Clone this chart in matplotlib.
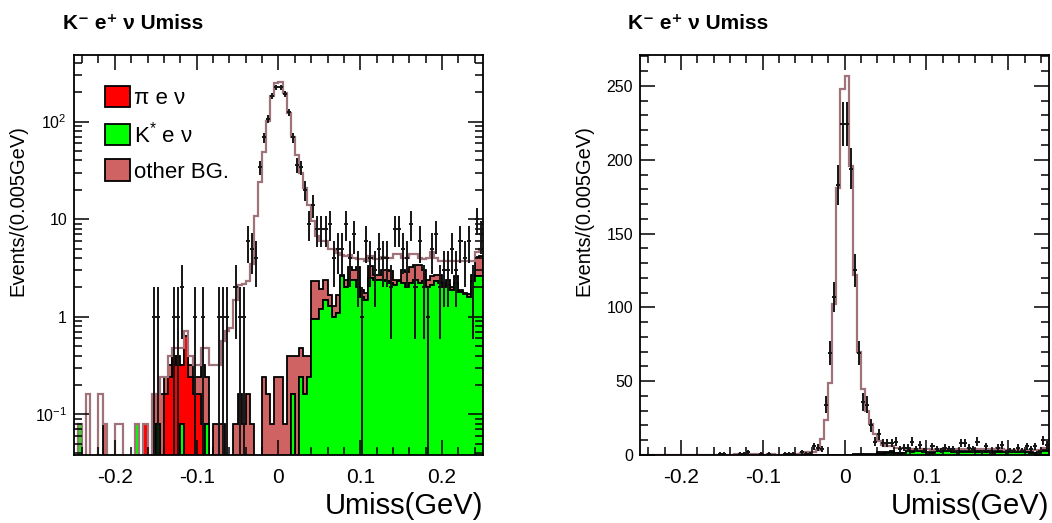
import numpy as np
import matplotlib
matplotlib.use("Agg")
import matplotlib.pyplot as plt
from matplotlib.patches import Patch
from matplotlib.ticker import MultipleLocator, FixedLocator, FuncFormatter, LogLocator, NullFormatter

plt.rcParams['font.family'] = ['Liberation Sans', 'DejaVu Sans']
plt.rcParams['axes.unicode_minus'] = False
plt.rcParams['mathtext.fontset'] = 'custom'
plt.rcParams['mathtext.rm'] = 'Liberation Sans'
plt.rcParams['mathtext.it'] = 'Liberation Sans:italic'
plt.rcParams['mathtext.bf'] = 'Liberation Sans:bold'

# 100 bins of 0.005 GeV between -0.25 and 0.25
edges = np.linspace(-0.25, 0.25, 101)
centers = 0.5 * (edges[1:] + edges[:-1])

# K* e nu MC (green)
kstar = [0, 0.08, 0, 0, 0, 0, 0, 0, 0, 0,
         0, 0, 0, 0, 0, 0.08, 0, 0, 0, 0,
         0.08, 0, 0, 0, 0, 0, 0.08, 0, 0, 0,
         0, 0, 0.08, 0, 0, 0, 0, 0, 0, 0,
         0, 0, 0, 0, 0, 0, 0, 0, 0, 0,
         0, 0, 0, 0.16, 0, 0.24, 0.16, 0.24, 0.95, 0.95,
         1.2, 1.47, 1.3, 1.0, 1.1, 2.6, 2.0, 2.4, 2.4, 2.0,
         1.6, 1.5, 2.5, 2.4, 2.4, 2.4, 2.3, 2.2, 2.1, 2.3,
         2.2, 2.0, 2.2, 2.4, 2.2, 2.3, 2.0, 2.1, 2.3, 2.2,
         2.0, 2.1, 1.9, 2.2, 1.8, 1.7, 1.6, 2.3, 2.6, 2.6]

# pi e nu MC (red)
pienu = [0, 0, 0, 0, 0, 0, 0, 0, 0, 0,
         0, 0, 0, 0, 0, 0, 0, 0.08, 0, 0,
         0, 0, 0.16, 0.24, 0.40, 0.32, 0.24, 0.64, 0.24, 0.16,
         0.16, 0.08, 0, 0, 0, 0, 0, 0, 0, 0] + [0] * 60

# other background MC
other = [0, 0, 0, 0, 0, 0, 0, 0.08, 0, 0,
         0, 0, 0, 0, 0, 0, 0, 0, 0, 0.16,
         0.08, 0.16, 0.08, 0.08, 0, 0.08, 0, 0, 0.08, 0.08,
         0.08, 0.24, 0.16, 0, 0.08, 0.08, 0.08, 0, 0, 0.08,
         0.16, 0.08, 0.16, 0.08, 0, 0, 0.24, 0.16, 0.08, 0.24,
         0.24, 0.08, 0.40, 0.24, 0.40, 0.24, 0.24, 0.16, 1.4, 1.4,
         0.74, 0.93, 0.35, 0.3, 0.55, 0.05, 0.4, 0.86, 0.6, 1.26,
         0.3, 0.25, 0.8, 0.25, 0.25, 0.6, 0.7, 0.75, 0.3, 0.1,
         0.8, 0.9, 1.0, 1.0, 1.2, 0.7, 0.4, 0.5, 0.4, 0.5,
         0.2, 0.3, 0.1, 0.4, 0.1, 0.05, 0.1, 0.4, 1.5, 1.6]

# K- e+ nu signal MC
signal = [0, 0, 0, 0.16, 0, 0, 0.16, 0, 0, 0,
          0.08, 0.08, 0, 0, 0, 0, 0, 0, 0, 0,
          0, 0.08, 0, 0.08, 0.08, 0.08, 0.16, 0.08, 0.08, 0.08,
          0.08, 0.16, 0.24, 0.32, 0.24, 0.24, 0.48, 0.72, 0.77, 1.4,
          1.95, 2.1, 2.15, 3.4, 10.7, 24, 48.8, 101.8, 181, 247.8,
          256.8, 196, 121.6, 69.6, 44.6, 29.5, 20.6, 13.6, 7.2, 4.4,
          4.0, 3.6, 3.3, 3.7, 2.8, 1.6, 1.8, 1.0, 1.0, 0.6,
          2.0, 1.95, 0.9, 1.25, 1.25, 1.1, 1.0, 1.05, 2.0, 2.0,
          1.0, 1.1, 1.2, 1.0, 0.6, 0.9, 1.6, 2.0, 1.3, 1.0,
          1.5, 1.3, 1.7, 1.1, 1.8, 1.95, 2.0, 1.0, 0.5, 0.8]

# data counts
data = [0, 0, 0, 0, 0, 0, 0, 0, 0, 0,
        0, 0, 0, 0, 0, 0, 0, 0, 0, 1,
        1, 0, 0, 0, 1, 1, 2, 0, 0, 1,
        0, 1, 0, 0, 0, 1, 1, 1, 0, 2,
        1, 1, 6, 5, 4, 34, 69, 107, 183, 224,
        224, 194, 125, 69, 36, 34, 20, 9, 14, 8,
        8, 8, 9, 4, 5, 5, 9, 4, 7, 3,
        1, 6, 4, 3, 5, 4, 4, 2, 8, 8,
        5, 4, 9, 2, 6, 2, 1, 5, 7, 2,
        3, 3, 5, 3, 6, 4, 6, 2, 10, 7]

c_green = '#00ff00'
c_red = '#ff0000'
c_other = '#cf6262'
c_total = '#a0727a'

kstar = np.array(kstar)
pienu = np.array(pienu)
other = np.array(other)
signal = np.array(signal)
data = np.array(data, dtype=float)

s1 = kstar
s2 = kstar + pienu
s3 = s2 + other
total = s3 + signal


def draw_panel(ax, logy):
    base = 1e-4 if logy else 0.0
    for vals, col in [(s3, c_other), (s2, c_red), (s1, c_green)]:
        ax.stairs(vals, edges, fill=True, facecolor=col, baseline=base)
        ax.stairs(vals, edges, fill=False, color='black', lw=1.3, baseline=base)
    tot = np.maximum(total, 1e-4) if logy else total
    ax.stairs(tot, edges, color=c_total, lw=1.6, baseline=None)

    m = data > 0
    n = data[m]
    err = np.sqrt(n)
    lo = np.where(n - err > 0, err, n - 1e-4) if logy else err
    ax.errorbar(centers[m], n, yerr=[lo, err], xerr=0.0025, fmt='none',
                ecolor='#151515', elinewidth=1.4, capsize=0)

    ax.set_xlim(-0.25, 0.25)
    ax.xaxis.set_major_locator(FixedLocator([-0.2, -0.1, 0, 0.1, 0.2]))
    ax.xaxis.set_minor_locator(MultipleLocator(0.02))
    ax.xaxis.set_major_formatter(FuncFormatter(lambda v, p: '%g' % round(v, 2)))
    ax.tick_params(axis='x', which='major', labelsize=15, pad=9)
    ax.tick_params(axis='y', which='major', labelsize=11.5, pad=5)
    ax.tick_params(which='both', direction='in', top=True, right=True, color='black')
    ax.tick_params(which='major', length=11, width=1.1)
    ax.tick_params(which='minor', length=5.5, width=1.1)
    for sp in ax.spines.values():
        sp.set_linewidth(1.3)
    ax.set_xlabel('Umiss(GeV)', fontsize=21, loc='right', labelpad=4)
    ax.set_ylabel('Events/(0.005GeV)', fontsize=14.5)
    ax.yaxis.set_label_coords(-0.113, 0.61)


fig = plt.figure(figsize=(10.52, 5.23), dpi=100)
ax1 = fig.add_axes([0.0703, 0.130, 0.3888, 0.765])
ax2 = fig.add_axes([0.6084, 0.130, 0.3888, 0.765])

draw_panel(ax1, True)
ax1.set_yscale('log')
ax1.set_ylim(0.0382, 483)
ax1.yaxis.set_major_locator(FixedLocator([0.1, 1, 10, 100]))
ax1.yaxis.set_minor_locator(LogLocator(base=10, subs=np.arange(2, 10)))
ax1.yaxis.set_minor_formatter(NullFormatter())
ylab = {0.1: r'$10^{-1}$', 1: '1', 10: '10', 100: r'$10^{2}$'}
ax1.yaxis.set_major_formatter(FuncFormatter(lambda v, p: ylab.get(round(v, 3), '')))

handles = [Patch(facecolor=c_red, edgecolor='black', lw=1.3),
           Patch(facecolor=c_green, edgecolor='black', lw=1.3),
           Patch(facecolor=c_other, edgecolor='black', lw=1.3)]
labels = ['π e ν', r'K$^{*}$ e ν', 'other BG.']
ax1.legend(handles, labels, loc='upper left', bbox_to_anchor=(0.055, 0.945),
           frameon=False, fontsize=16, handlelength=1.1, handleheight=1.1,
           handletextpad=0.2, labelspacing=0.55, borderaxespad=0)

draw_panel(ax2, False)
ax2.set_ylim(0, 271)
ax2.yaxis.set_major_locator(MultipleLocator(50))
ax2.yaxis.set_minor_locator(MultipleLocator(10))

title = 'K⁻ e⁺ ν Umiss'
fig.text(0.060, 0.955, title, fontsize=15, fontweight='bold', va='center')
fig.text(0.597, 0.955, title, fontsize=15, fontweight='bold', va='center')

fig.savefig('out.png', dpi=100)
